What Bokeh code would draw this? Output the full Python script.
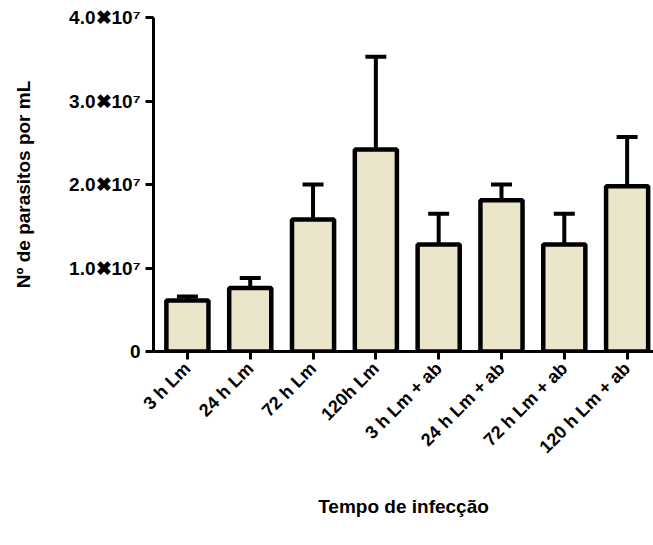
import math
from bokeh.plotting import figure
from bokeh.models import FixedTicker, Range1d, ColumnDataSource
from bokeh.embed import file_html
from bokeh.resources import INLINE

groups = ["3 h Lm", "24 h Lm", "72 h Lm", "120h Lm",
          "3 h Lm + ab", "24 h Lm + ab", "72 h Lm + ab", "120 h Lm + ab"]
means = [6.1e6, 7.6e6, 1.58e7, 2.42e7, 1.28e7, 1.81e7, 1.28e7, 1.98e7]
upper = [6.6e6, 8.8e6, 2.0e7, 3.53e7, 1.65e7, 2.0e7, 1.65e7, 2.57e7]
y_ticks = [0, 1e7, 2e7, 3e7, 4e7]
y_tick_labels = ["0", "1.0\u271610\u2077", "2.0\u271610\u2077", "3.0\u271610\u2077", "4.0\u271610\u2077"]
y_title = "N\u00ba de parasitos por mL"
x_title = "Tempo de infec\u00e7\u00e3o"

xs = list(range(1, len(groups) + 1))
cap = 0.167
src = ColumnDataSource(dict(
    x=xs, mean=means, upper=upper,
    cl=[x - cap for x in xs], cr=[x + cap for x in xs],
))

FONT = "Liberation Sans"

p = figure(width=653, height=545, output_backend="svg", toolbar_location=None,
           x_range=Range1d(0.46, 8.42), y_range=Range1d(0, 4e7),
           min_border_left=153, min_border_top=17, min_border_bottom=194,
           min_border_right=0)
p.outline_line_color = None
p.xgrid.visible = False
p.ygrid.visible = False
p.background_fill_color = "white"
p.border_fill_color = "white"

p.segment(x0="x", y0="mean", x1="x", y1="upper", source=src, line_color="black", line_width=4)
p.segment(x0="cl", y0="upper", x1="cr", y1="upper", source=src, line_color="black", line_width=4)
p.vbar(x="x", top="mean", bottom=0, width=0.67, source=src,
       fill_color="#EBE5C9", line_color="black", line_width=4.5)

# axes
p.yaxis.ticker = FixedTicker(ticks=y_ticks)
p.yaxis.major_label_overrides = {t: l for t, l in zip(y_ticks, y_tick_labels)}
p.yaxis.minor_tick_line_color = None
p.xaxis.ticker = FixedTicker(ticks=xs)
p.xaxis.major_label_overrides = {x: g for x, g in zip(xs, groups)}
p.xaxis.minor_tick_line_color = None
p.xaxis.major_label_orientation = math.pi / 4

for ax in (p.xaxis, p.yaxis):
    ax.axis_line_width = 3
    ax.major_tick_line_width = 3
    ax.major_tick_out = 8
    ax.major_tick_in = 0
    ax.major_label_text_font = FONT
    ax.major_label_text_font_style = "bold"
    ax.major_label_text_color = "black"
    ax.axis_label_text_font = FONT
    ax.axis_label_text_font_style = "bold"
    ax.axis_label_text_color = "black"

p.yaxis.major_label_text_font_size = "19px"
p.xaxis.major_label_text_font_size = "18px"
p.yaxis.major_label_standoff = 5
p.xaxis.major_label_standoff = 6
p.yaxis.axis_label = y_title
p.xaxis.axis_label = x_title
p.yaxis.axis_label_text_font_size = "19px"
p.xaxis.axis_label_text_font_size = "19px"
p.yaxis.axis_label_standoff = 32
p.xaxis.axis_label_standoff = 29

open("out.html", "w").write(file_html(p, INLINE))
